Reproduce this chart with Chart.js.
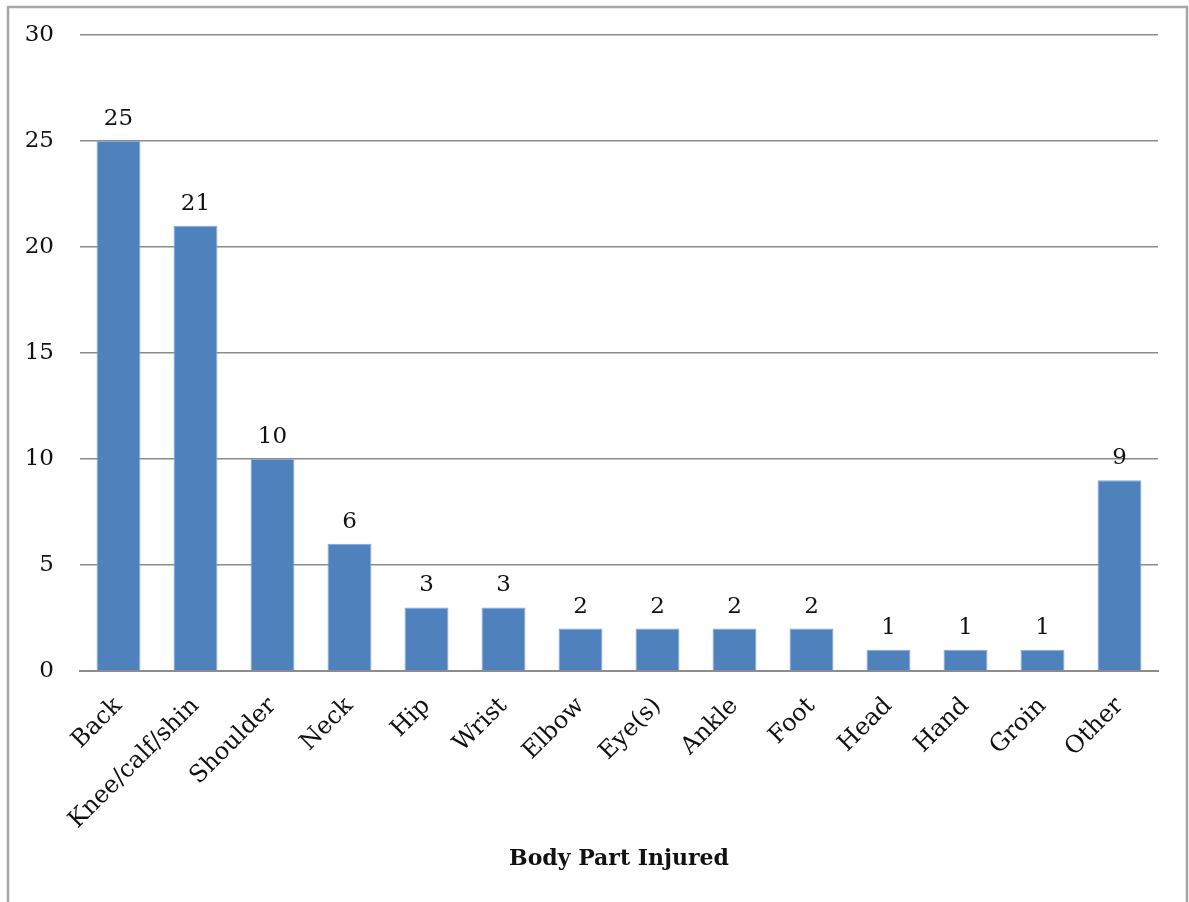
<!DOCTYPE html>
<html>
<head>
<meta charset="utf-8">
<script src="https://cdn.jsdelivr.net/npm/chart.js@4/dist/chart.umd.min.js"></script>
<style>
  html, body { margin: 0; padding: 0; background: #ffffff; }
  #wrap { position: absolute; left: 0; top: 0; width: 1189px; height: 902px; }
</style>
</head>
<body>
<div id="wrap"><canvas id="c" width="1189" height="902"></canvas></div>
<script>
// Injury counts by body part
const categories = ['Back', 'Knee/calf/shin', 'Shoulder', 'Neck', 'Hip', 'Wrist', 'Elbow',
  'Eye(s)', 'Ankle', 'Foot', 'Head', 'Hand', 'Groin', 'Other'];
const injuries = [25, 21, 10, 6, 3, 3, 2, 2, 2, 2, 1, 1, 1, 9];
const yTicks = [0, 5, 10, 15, 20, 25, 30];

const FONT = "'DejaVu Serif', 'Liberation Serif', serif";

// Outer frame around the figure (open at the bottom edge of the page)
const framePlugin = {
  id: 'frame',
  beforeDraw(chart) {
    const ctx = chart.ctx;
    ctx.save();
    ctx.fillStyle = '#ffffff';
    ctx.fillRect(0, 0, chart.width, chart.height);
    ctx.strokeStyle = '#a6a6a6';
    ctx.lineWidth = 2.5;
    ctx.strokeRect(8, 7, 1179, 910);
    ctx.restore();
  }
};

// Value labels above each bar
const valueLabels = {
  id: 'valueLabels',
  afterDatasetsDraw(chart) {
    const ctx = chart.ctx;
    const meta = chart.getDatasetMeta(0);
    ctx.save();
    ctx.font = '23px ' + FONT;
    ctx.fillStyle = '#111111';
    ctx.textAlign = 'center';
    ctx.textBaseline = 'alphabetic';
    meta.data.forEach((bar, i) => {
      ctx.fillText(String(chart.data.datasets[0].data[i]), bar.x, bar.y - 16);
    });
    ctx.restore();
  }
};

new Chart(document.getElementById('c'), {
  type: 'bar',
  data: {
    labels: categories,
    datasets: [{
      data: injuries,
      backgroundColor: '#4f81bd',
      borderColor: '#85a9d8',
      borderWidth: 1,
      categoryPercentage: 1.0,
      barPercentage: 0.57
    }]
  },
  options: {
    responsive: false,
    animation: false,
    devicePixelRatio: 1,
    layout: { padding: { left: 0, right: 31, top: 35, bottom: 30 } },
    plugins: {
      legend: { display: false },
      tooltip: { enabled: false }
    },
    scales: {
      x: {
        afterFit(axis) { axis.height = 201; },
        grid: { display: false, drawTicks: false },
        border: { display: true, color: '#8c8c8c', width: 2 },
        ticks: {
          color: '#111111',
          font: { family: FONT, size: 24 },
          minRotation: 45,
          maxRotation: 45,
          padding: 21,
          autoSkip: false
        },
        title: {
          display: true,
          text: 'Body Part Injured',
          color: '#111111',
          font: { family: FONT, size: 22, weight: 'bold' },
          padding: { top: 0, bottom: 0 }
        }
      },
      y: {
        min: 0,
        max: 30,
        afterBuildTicks(axis) { axis.ticks = yTicks.map(v => ({ value: v })); },
        afterFit(axis) {
          axis.width = 80;
          axis.paddingTop = 0;
          axis.paddingBottom = 0;
        },
        grid: { color: '#8c8c8c', lineWidth: 1.5, drawTicks: false },
        border: { display: false },
        ticks: {
          color: '#111111',
          font: { family: FONT, size: 23 },
          padding: 26
        }
      }
    }
  },
  plugins: [framePlugin, valueLabels]
});
</script>
</body>
</html>
